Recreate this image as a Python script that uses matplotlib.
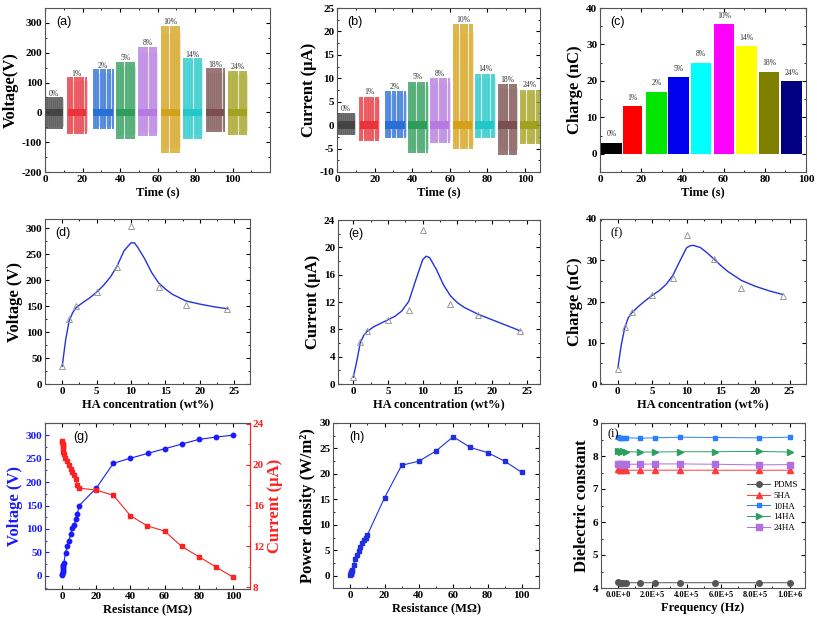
import numpy as np
import matplotlib
matplotlib.use('Agg')
import matplotlib.pyplot as plt
from matplotlib.ticker import MultipleLocator, AutoMinorLocator

plt.rcParams['font.family'] = ['Liberation Serif', 'DejaVu Serif']
plt.rcParams['font.weight'] = 'bold'
plt.rcParams['axes.labelweight'] = 'bold'
plt.rcParams['axes.edgecolor'] = '#555555'
plt.rcParams['axes.linewidth'] = 0.8
plt.rcParams['axes.unicode_minus'] = False

# ---- data: (a)-(c) output vs time for each HA content
pct_labels = ['0%', '1%', '2%', '5%', '8%', '10%', '14%', '18%', '24%']
seg_start = [0, 12, 25.6, 37.9, 49.6, 61.9, 73.6, 85.9, 97.6]
seg_end = [9.6, 22, 36.3, 48, 59.7, 72, 83.7, 95.5, 107.7]
volt_pos = [50, 118, 145, 170, 220, 290, 182, 148, 140]
volt_neg = [-55, -72, -55, -88, -78, -135, -88, -65, -75]
curr_pos = [2.5, 6, 7.2, 9.2, 10, 21.5, 11, 8.7, 7.5]
curr_neg = [-2.2, -3.3, -2.8, -6, -3.8, -5, -2.8, -6.3, -4]
charge_start = [0.5, 11, 22.3, 33, 44, 55.3, 66, 77, 88]
charge_end = [10.5, 20.5, 32.4, 43, 54, 65, 76, 87, 98]
charge_top = [3, 13, 17, 21, 25, 35.5, 29.5, 22.5, 20]

# ---- data: (d)-(f) vs HA concentration
ha_conc = [0, 1, 2, 5, 8, 10, 14, 18, 24]
ha_voltage = [35, 125, 150, 178, 225, 305, 187, 153, 145]
ha_current = [1.0, 6.1, 7.8, 9.4, 10.8, 22.5, 11.7, 10.1, 7.8]
ha_charge = [3.6, 13.7, 17.5, 21.6, 25.7, 36.2, 30.4, 23.3, 21.3]
# fitted curves
fit_x = [0, 0.5, 1, 1.5, 2, 3, 4, 5, 6, 7, 8, 9, 10, 10.5, 11, 12, 13, 14, 15, 16, 18, 20, 22, 24]
fit_voltage = [34, 85, 121, 137, 147, 157, 166, 177, 190, 206, 228, 257, 272, 272, 263, 241, 215, 195,
               183, 173, 160, 154, 149, 145]
fit_current = [1.0, 3.3, 6.0, 7.1, 7.7, 8.4, 8.9, 9.4, 9.9, 10.7, 12.1, 15.2, 18.2, 18.7, 18.5, 16.7,
               14.5, 12.9, 11.9, 11.2, 10.2, 9.4, 8.6, 7.8]
fit_charge = [3.9, 9.5, 13.6, 16.0, 17.2, 18.8, 20.2, 21.5, 22.6, 24.1, 26.3, 29.7, 33.0, 33.5, 33.6,
              33.1, 31.8, 30.3, 28.7, 27.3, 25.1, 23.7, 22.6, 21.7]

# ---- data: (g),(h) vs load resistance (MOhm)
res = [0.1, 0.2, 0.3, 0.4, 0.5, 0.6, 0.8, 1, 2, 3, 4, 5, 6, 7, 8, 9, 10,
       20, 30, 40, 50, 60, 70, 80, 90, 100]
res_voltage = [2, 5, 9, 13, 17, 20, 24, 27, 49, 64, 75, 89, 103, 108, 121, 133, 150,
               187, 240, 251, 261, 271, 281, 291, 296, 300]
res_current = [22.3, 22.2, 22.0, 21.9, 21.7, 21.5, 21.2, 21.0, 20.6, 20.3, 20.0, 19.6, 19.3, 19.0,
               18.6, 18.0, 17.7, 17.5, 17.0, 15.0, 14.0, 13.5, 12.0, 11.0, 10.0, 9.0]
res_power = [0.2, 0.3, 0.4, 0.5, 0.7, 0.8, 1.0, 1.2, 2.2, 3.2, 4.0, 4.8, 5.6, 6.5, 7.0, 7.4, 8.0,
             15.3, 21.7, 22.5, 24.5, 27.3, 25.2, 24.2, 22.5, 20.3]

# ---- data: (i) dielectric constant vs frequency
freq = [0, 0.8e4, 1.9e4, 2.7e4, 4.7e4, 1.26e5, 2.14e5, 3.6e5, 5.63e5, 8.2e5, 1.0e6]
diel_names = ['PDMS', '5HA', '10HA', '14HA', '24HA']
diel_pdms = [4.17, 4.16, 4.16, 4.16, 4.16, 4.16, 4.16, 4.16, 4.16, 4.16, 4.16]
diel_5ha = [7.60, 7.58, 7.57, 7.57, 7.57, 7.57, 7.57, 7.57, 7.57, 7.57, 7.57]
diel_10ha = [8.58, 8.55, 8.56, 8.54, 8.55, 8.54, 8.55, 8.57, 8.56, 8.55, 8.57]
diel_14ha = [8.15, 8.14, 8.13, 8.14, 8.13, 8.12, 8.12, 8.13, 8.13, 8.14, 8.12]
diel_24ha = [7.75, 7.75, 7.75, 7.74, 7.75, 7.75, 7.76, 7.76, 7.75, 7.73, 7.74]

ts_colors = ['#444444', '#e8333a', '#2a6fd6', '#2e9c5a', '#b57be0', '#d4a21a', '#22c7c7', '#7b4f4f', '#a3a21f']
ch_colors = ['#000000', '#ff0000', '#00e600', '#0000ee', '#00ffff', '#ff00ff', '#ffff00', '#808000', '#000080']

fig = plt.figure(figsize=(8.17, 6.28), dpi=100)
W, H = 817.0, 628.0


def box(left, top, right, bottom):
    return fig.add_axes([left / W, 1 - bottom / H, (right - left) / W, (bottom - top) / H])


def style(ax, xmaj, ymaj, tsize=8, right=True):
    ax.xaxis.set_major_locator(MultipleLocator(xmaj))
    ax.yaxis.set_major_locator(MultipleLocator(ymaj))
    ax.xaxis.set_minor_locator(AutoMinorLocator(2))
    ax.yaxis.set_minor_locator(AutoMinorLocator(2))
    ax.tick_params(which='both', direction='in', top=True, right=right)
    ax.tick_params(which='major', length=3, width=0.8, labelsize=tsize, pad=2)
    ax.tick_params(which='minor', length=1.6, width=0.6)


def panel_label(ax, s, x=0.05, family='Liberation Sans'):
    ax.text(x, 0.95, s, transform=ax.transAxes, va='top', ha='left', fontsize=9,
            family=family, weight='normal')


def pulses(ax, pos, neg, band, npulse=9):
    for i in range(len(seg_start)):
        t = np.linspace(seg_start[i] + 0.3, seg_end[i] - 0.3, npulse)
        ax.vlines(t, neg[i], pos[i], color=ts_colors[i], lw=1.1)
        ax.vlines(t + 0.5, 0.85 * neg[i], 0.92 * pos[i], color=ts_colors[i], lw=0.5, alpha=0.35)
        ax.fill_between([seg_start[i], seg_end[i]], -band, band, color=ts_colors[i], lw=0)


# (a)
ax = box(45, 8, 270, 172)
pulses(ax, volt_pos, volt_neg, 12)
for i in range(len(pct_labels)):
    ax.text((seg_start[i] + seg_end[i]) / 2, volt_pos[i] + 12, pct_labels[i], ha='center', va='center',
            fontsize=5.5, weight='normal', color='#333333')
ax.set_ylim(-200, 350)
style(ax, 20, 100)
ax.set_xlim(0, 120)
ax.set_xticks([0, 20, 40, 60, 80, 100])
ax.set_xlabel('Time (s)', fontsize=9, labelpad=2)
ax.set_ylabel('Voltage(V)', fontsize=12, labelpad=2)
panel_label(ax, '(a)')

# (b)
ax = box(337, 8, 540, 172)
pulses(ax, curr_pos, curr_neg, 0.8)
for i in range(len(pct_labels)):
    ax.text((seg_start[i] + seg_end[i]) / 2, curr_pos[i] + 1.0, pct_labels[i], ha='center', va='center',
            fontsize=5.5, weight='normal', color='#333333')
ax.set_xlim(0, 108)
ax.set_ylim(-10, 25)
style(ax, 20, 5)
ax.set_xlabel('Time (s)', fontsize=9, labelpad=2)
ax.set_ylabel('Current (μA)', fontsize=12, labelpad=2)
panel_label(ax, '(b)')

# (c)
ax = box(600, 8, 806, 172)
for i in range(len(pct_labels)):
    ax.bar(charge_start[i], charge_top[i], width=charge_end[i] - charge_start[i], align='edge',
           color=ch_colors[i], lw=0)
    ax.text((charge_start[i] + charge_end[i]) / 2, charge_top[i] + 2.3, pct_labels[i], ha='center',
            va='center', fontsize=5.5, weight='normal', color='#333333')
ax.set_xlim(0, 100)
ax.set_ylim(-5, 40)
style(ax, 20, 10)
ax.set_xlabel('Time (s)', fontsize=9, labelpad=2)
ax.set_ylabel('Charge (nC)', fontsize=12, labelpad=2)
panel_label(ax, '(c)')

# (d)-(f)
panels = [
    ((45, 219, 250, 384), ha_voltage, fit_voltage, (-2.5, 27.3), (0, 318), 50, 'Voltage (V)', '(d)'),
    ((338, 220, 540, 384), ha_current, fit_current, (-2.2, 26.9), (0, 24), 4, 'Current (μA)', '(e)'),
    ((600, 219, 806, 384), ha_charge, fit_charge, (-2.6, 27.4), (0, 40), 10, 'Charge (nC)', '(f)'),
]
for rect, pts, fit, xl, yl, ystep, ylab, tag in panels:
    ax = box(*rect)
    ax.plot(fit_x, fit, color='#2233dd', lw=1.0)
    ax.plot(ha_conc, pts, ls='none', marker='^', ms=4.5, mfc='none', mec='#9a9a9a', mew=0.7)
    ax.set_xlim(*xl)
    ax.set_ylim(*yl)
    style(ax, 5, ystep)
    ax.set_xlabel('HA concentration (wt%)', fontsize=9, labelpad=2)
    ax.set_ylabel(ylab, fontsize=12, labelpad=2)
    panel_label(ax, tag, family='Liberation Serif' if tag == '(f)' else 'Liberation Sans')

# (g)
ax = box(45, 423, 250, 589)
ax.plot(res, res_voltage, color='#1a1aff', lw=0.8, marker='o', ms=3.2)
ax.set_xlim(-10, 110)
ax.set_ylim(-28, 326)
style(ax, 20, 50, right=False)
ax.tick_params(axis='y', which='both', colors='#1a1aff', labelcolor='#1a1aff')
ax.set_xlabel('Resistance (MΩ)', fontsize=9, labelpad=2)
ax.set_ylabel('Voltage (V)', fontsize=12, labelpad=2, color='#1a1aff')
panel_label(ax, '(g)', x=0.14)
ax2 = ax.twinx()
ax2.plot(res, res_current, color='#ff2020', lw=0.8, marker='s', ms=2.2)
ax2.set_ylim(7.84, 24.06)
ax2.yaxis.set_major_locator(MultipleLocator(4))
ax2.yaxis.set_minor_locator(AutoMinorLocator(2))
ax2.tick_params(which='both', direction='in', colors='#ff2020', labelcolor='#ff2020')
ax2.tick_params(which='major', length=3, width=0.8, labelsize=8, pad=2)
ax2.tick_params(which='minor', length=1.6, width=0.6)
ax2.spines['right'].set_color('#ff2020')
ax2.set_ylabel('Current (μA)', fontsize=12, labelpad=2, color='#ff2020')

# (h)
ax = box(333, 423, 539, 588)
ax.plot(res, res_power, color='#1f2fe0', lw=0.8, marker='s', ms=3.2)
ax.set_xlim(-10, 110)
ax.set_ylim(-2.4, 30)
style(ax, 20, 5)
ax.set_xlabel('Resistance (MΩ)', fontsize=9, labelpad=2)
ax.set_ylabel('Power density (W/m²)', fontsize=12, labelpad=2)
panel_label(ax, '(h)', x=0.08)

# (i)
ax = box(601, 423, 805, 588)
diel_series = [diel_pdms, diel_5ha, diel_10ha, diel_14ha, diel_24ha]
diel_colors = ['#555555', '#ff3b3b', '#2a7fff', '#2ca060', '#b070e0']
diel_markers = ['o', '^', 's', '>', 's']
diel_ms = [4, 4, 2.5, 4, 4]
for vals, name, c, m, s in zip(diel_series, diel_names, diel_colors, diel_markers, diel_ms):
    ax.plot(freq, vals, color=c, lw=0.7, marker=m, ms=s, label=name)
ax.set_xlim(-0.1e6, 1.09e6)
ax.set_ylim(4, 9)
style(ax, 2e5, 1)
ax.set_xticks([0, 2e5, 4e5, 6e5, 8e5, 1e6])
ax.set_xticklabels(['0.0E+0', '2.0E+5', '4.0E+5', '6.0E+5', '8.0E+5', '1.0E+6'], fontsize=6)
ax.set_xlabel('Frequency (Hz)', fontsize=9, labelpad=2)
ax.set_ylabel('Dielectric constant', fontsize=12, labelpad=2)
ax.legend(loc='upper left', bbox_to_anchor=(0.7, 0.67), frameon=False,
          labelspacing=0.25, handlelength=2.5, handletextpad=0.4, borderaxespad=0,
          prop={'family': 'Liberation Serif', 'weight': 'normal', 'size': 6.5})
ax.text(0.03, 0.97, '(i)', transform=ax.transAxes, va='top', ha='left', fontsize=9, weight='normal')

fig.savefig('out.png', dpi=100)
